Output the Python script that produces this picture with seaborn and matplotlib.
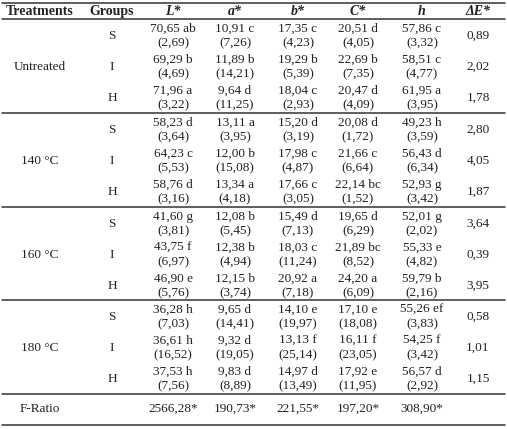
import matplotlib
matplotlib.use("Agg")
import matplotlib.pyplot as plt
import seaborn as sns

sns.set_theme(style="white")
plt.rcParams['font.family'] = ['Liberation Serif', 'DejaVu Serif']

headers = ['Treatments', 'Groups', 'L*', 'a*', 'b*', 'C*', 'h', 'ΔE*']
treatments = ['Untreated', '140 °C', '160 °C', '180 °C']
groups = ['S', 'I', 'H']

means = [
    ['70,65 ab', '10,91 c', '17,35 c', '20,51 d', '57,86 c'],
    ['69,29 b', '11,89 b', '19,29 b', '22,69 b', '58,51 c'],
    ['71,96 a', '9,64 d', '18,04 c', '20,47 d', '61,95 a'],
    ['58,23 d', '13,11 a', '15,20 d', '20,08 d', '49,23 h'],
    ['64,23 c', '12,00 b', '17,98 c', '21,66 c', '56,43 d'],
    ['58,76 d', '13,34 a', '17,66 c', '22,14 bc', '52,93 g'],
    ['41,60 g', '12,08 b', '15,49 d', '19,65 d', '52,01 g'],
    ['43,75 f', '12,38 b', '18,03 c', '21,89 bc', '55,33 e'],
    ['46,90 e', '12,15 b', '20,92 a', '24,20 a', '59,79 b'],
    ['36,28 h', '9,65 d', '14,10 e', '17,10 e', '55,26 ef'],
    ['36,61 h', '9,32 d', '13,13 f', '16,11 f', '54,25 f'],
    ['37,53 h', '9,83 d', '14,97 d', '17,92 e', '56,57 d'],
]
sds = [
    ['(2,69)', '(7,26)', '(4,23)', '(4,05)', '(3,32)'],
    ['(4,69)', '(14,21)', '(5,39)', '(7,35)', '(4,77)'],
    ['(3,22)', '(11,25)', '(2,93)', '(4,09)', '(3,95)'],
    ['(3,64)', '(3,95)', '(3,19)', '(1,72)', '(3,59)'],
    ['(5,53)', '(15,08)', '(4,87)', '(6,64)', '(6,34)'],
    ['(3,16)', '(4,18)', '(3,05)', '(1,52)', '(3,42)'],
    ['(3,81)', '(5,45)', '(7,13)', '(6,29)', '(2,02)'],
    ['(6,97)', '(4,94)', '(11,24)', '(8,52)', '(4,82)'],
    ['(5,76)', '(3,74)', '(7,18)', '(6,09)', '(2,16)'],
    ['(7,03)', '(14,41)', '(19,97)', '(18,08)', '(3,83)'],
    ['(16,52)', '(19,05)', '(25,14)', '(23,05)', '(3,42)'],
    ['(7,56)', '(8,89)', '(13,49)', '(11,95)', '(2,92)'],
]
delta_e = ['0,89', '2,02', '1,78', '2,80', '4,05', '1,87',
           '3,64', '0,39', '3,95', '0,58', '1,01', '1,15']
f_ratio = ['2566,28*', '190,73*', '221,55*', '197,20*', '308,90*']

W, H = 507, 429
fig = plt.figure(figsize=(W / 100, H / 100), dpi=100)
ax = fig.add_axes([0, 0, 1, 1])
ax.set_xlim(0, W)
ax.set_ylim(H, 0)
ax.axis('off')

xs = [40, 112, 173, 235, 298, 358, 422, 478]
fs = 9.5
col = '#222222'

# header
for i, h in enumerate(headers):
    style = 'italic' if i >= 2 else 'normal'
    ax.text(xs[i], 11.5, h, ha='center', va='center', fontsize=10,
            fontweight='bold', fontstyle=style, color=col)

lines = [3, 19, 113, 207, 300, 394, 425]
for y in lines:
    ax.plot([2, 505], [y, y], color='#333333', lw=1.1)

block_tops = [19, 113, 207, 300]
for b, t in enumerate(treatments):
    top = block_tops[b]
    ax.text(xs[0], top + 48, t, ha='center', va='center', fontsize=fs, color=col)
    for g in range(3):
        r = b * 3 + g
        yc = top + 17 + 31 * g
        ax.text(xs[1], yc, groups[g], ha='center', va='center', fontsize=fs, color=col)
        for c in range(5):
            ax.text(xs[2 + c], yc - 7, means[r][c], ha='center', va='center', fontsize=fs, color=col)
            ax.text(xs[2 + c], yc + 7, sds[r][c], ha='center', va='center', fontsize=fs, color=col)
        ax.text(xs[7], yc, delta_e[r], ha='center', va='center', fontsize=fs, color=col)

ax.text(xs[0], 409, 'F-Ratio', ha='center', va='center', fontsize=fs, color=col)
for c in range(5):
    ax.text(xs[2 + c], 409, f_ratio[c], ha='center', va='center', fontsize=fs, color=col)

fig.savefig('out.png', dpi=100, facecolor='white')
